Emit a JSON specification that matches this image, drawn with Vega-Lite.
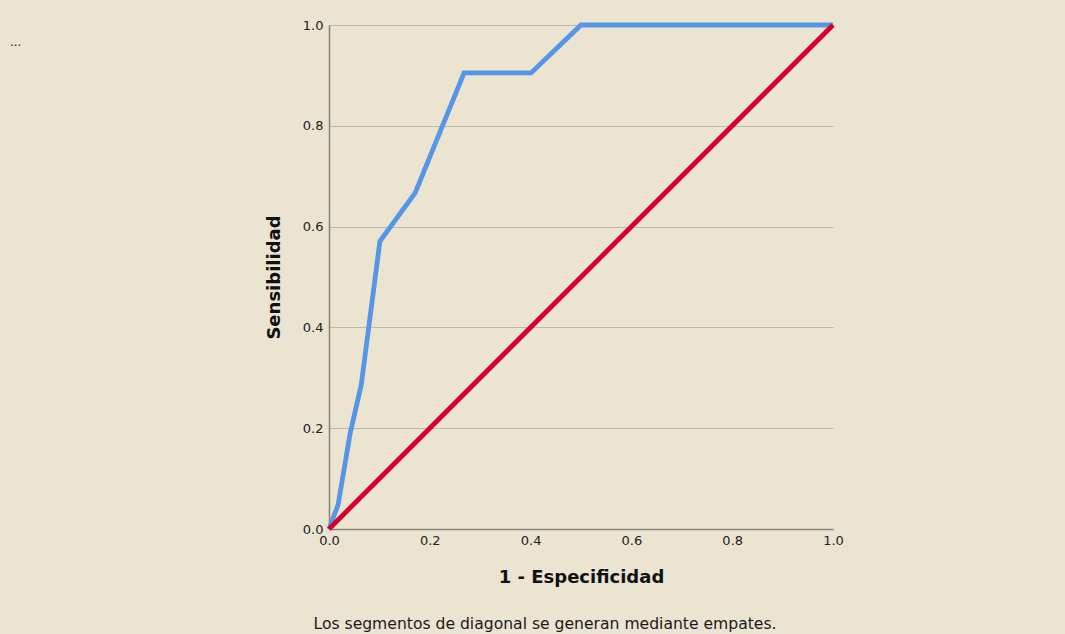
{
  "$schema": "https://vega.github.io/schema/vega-lite/v6.json",
  "width": 504,
  "height": 504,
  "autosize": {"type": "none"},
  "padding": {"left": 329, "top": 25, "right": 232, "bottom": 105},
  "background": "#EBE4D1",
  "config": {
    "view": {"stroke": null},
    "font": "DejaVu Sans",
    "axis": {
      "labelFont": "DejaVu Sans",
      "labelFontSize": 13,
      "labelColor": "#222222",
      "labelFlush": false,
      "ticks": false,
      "domainColor": "#85827A",
      "domainWidth": 1.5,
      "titleFont": "DejaVu Sans",
      "titleFontWeight": "bold",
      "titleFontSize": 18,
      "titleColor": "#111111"
    }
  },
  "title": {
    "text": "Los segmentos de diagonal se generan mediante empates.",
    "orient": "bottom",
    "anchor": "middle",
    "dx": -36,
    "offset": 31,
    "fontSize": 15.6,
    "fontWeight": "normal",
    "font": "DejaVu Sans",
    "color": "#1A1A1A"
  },
  "datasets": {
    "roc": [
      {"fp": 0, "sens": 0},
      {"fp": 0.018, "sens": 0.048},
      {"fp": 0.042, "sens": 0.19},
      {"fp": 0.064, "sens": 0.286},
      {"fp": 0.101, "sens": 0.571},
      {"fp": 0.171, "sens": 0.667},
      {"fp": 0.268, "sens": 0.905},
      {"fp": 0.401, "sens": 0.905},
      {"fp": 0.5, "sens": 1},
      {"fp": 1, "sens": 1}
    ],
    "ref": [
      {"fp": 0, "sens": 0},
      {"fp": 1, "sens": 1}
    ],
    "dots": [
      {"t": "...", "px": -0.633, "py": 0.966}
    ]
  },
  "layer": [
    {
      "data": {"name": "roc"},
      "mark": {"type": "line", "color": "#5596E6", "strokeWidth": 4.8, "clip": false},
      "encoding": {
        "x": {
          "field": "fp",
          "type": "quantitative",
          "scale": {"domain": [0, 1], "nice": false, "zero": false},
          "axis": {
            "title": "1 - Especificidad",
            "values": [0, 0.2, 0.4, 0.6, 0.8, 1],
            "format": ".1f",
            "grid": false,
            "labelPadding": 5,
            "titlePadding": 21
          }
        },
        "y": {
          "field": "sens",
          "type": "quantitative",
          "scale": {"domain": [0, 1], "nice": false, "zero": false},
          "axis": {
            "title": "Sensibilidad",
            "values": [0, 0.2, 0.4, 0.6, 0.8, 1],
            "format": ".1f",
            "grid": true,
            "gridColor": "#BDB9AF",
            "gridWidth": 1.2,
            "labelPadding": 6,
            "titlePadding": 19
          }
        }
      }
    },
    {
      "data": {"name": "ref"},
      "mark": {"type": "line", "color": "#D6002F", "strokeWidth": 4.8, "clip": false},
      "encoding": {
        "x": {"field": "fp", "type": "quantitative"},
        "y": {"field": "sens", "type": "quantitative"}
      }
    },
    {
      "data": {"name": "dots"},
      "mark": {"type": "text", "align": "left", "baseline": "middle", "fontSize": 12, "color": "#222222", "clip": false},
      "encoding": {
        "x": {"field": "px", "type": "quantitative"},
        "y": {"field": "py", "type": "quantitative"},
        "text": {"field": "t"}
      }
    }
  ]
}
